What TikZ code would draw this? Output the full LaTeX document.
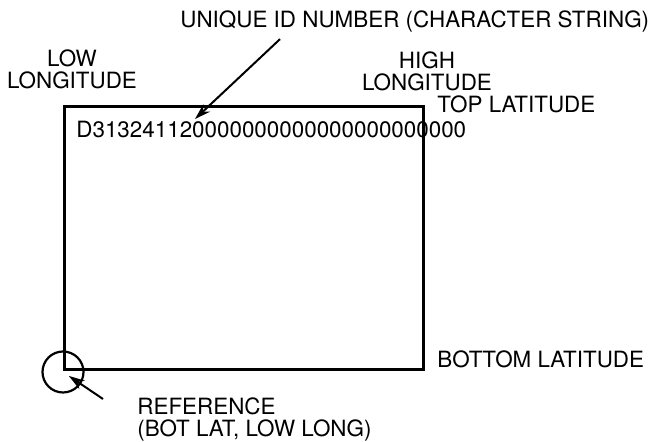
\documentclass[tikz,border=0pt]{standalone}
\usepackage{fontspec}
\setmainfont{TeX Gyre Heros}
\usetikzlibrary{arrows.meta}

\begin{document}
\begin{tikzpicture}[x=0.5pt, y=-0.5pt, font=\fontsize{11.2}{11}\selectfont]
	\tikzstyle{tag} = [anchor=base west, inner sep=0pt]
	\tikzstyle{pair} = [align=center, inner sep=0pt, anchor=north]
	\tikzstyle{arrow} = [line width=1pt, ->, >={Stealth[length=8pt, width=5pt]}]
	\useasboundingbox (0,0) rectangle (666,442);
	% map tile and its corner mark
	\node (tile) [draw, line width=1.4pt, inner sep=0pt, minimum width=179.5pt,
		minimum height=131.5pt, anchor=north west] at (63,105) {};
	\node (refMark) [draw, circle, line width=1.1pt, minimum size=20.5pt, inner sep=0pt]
		at (63,372) {};
	\node (idString) [tag] at (76,138) {D313241120000000000000000000000};
	% labels round the tile
	\node (idLabel) [tag] at (180,28) {UNIQUE ID NUMBER (CHARACTER STRING)};
	\node (lowLong) [pair] at (72,49) {LOW\\LONGITUDE};
	\node (highLong) [pair] at (427,51) {HIGH\\LONGITUDE};
	\node (topLat) [tag] at (437,113) {TOP LATITUDE};
	\node (botLat) [tag] at (437,368) {BOTTOM LATITUDE};
	\node (refLabel) [pair, align=left, anchor=north west] at (137,397)
		{REFERENCE\\(BOT LAT, LOW LONG)};
	\coordinate (idTip) at (195,119);
	\draw [arrow] ([xshift=50pt, yshift=-3pt]idLabel.south west) -- (idTip);
	\draw [arrow, shorten >=3.5pt] ([xshift=-17pt, yshift=-1pt]refLabel.north west) -- (refMark.center);
\end{tikzpicture}
\end{document}
